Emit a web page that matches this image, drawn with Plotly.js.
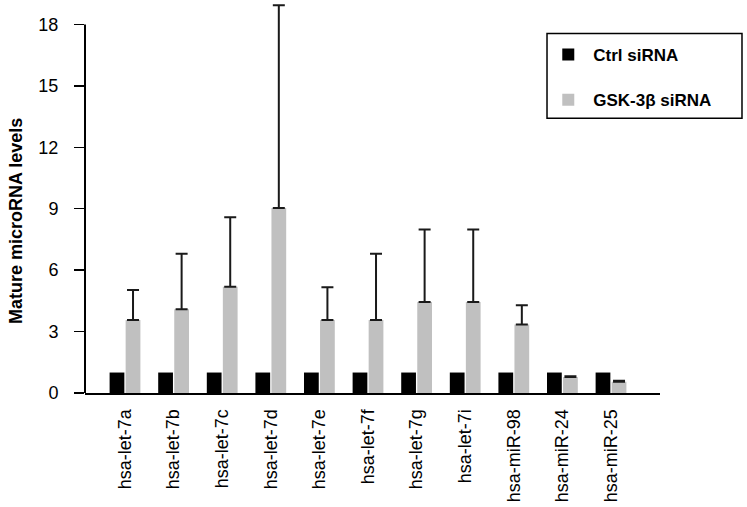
<!DOCTYPE html>
<html>
<head>
<meta charset="utf-8">
<script src="https://cdn.plot.ly/plotly-3.0.1.min.js"></script>
<style>html,body{margin:0;padding:0;background:#fff;}#chart{width:747px;height:507px;}</style>
</head>
<body>
<div id="chart"></div>
<script>
var categories = ["hsa-let-7a","hsa-let-7b","hsa-let-7c","hsa-let-7d","hsa-let-7e","hsa-let-7f","hsa-let-7g","hsa-let-7i","hsa-miR-98","hsa-miR-24","hsa-miR-25"];
var ctrlValues = [1,1,1,1,1,1,1,1,1,1,1];
var gskValues = [3.57,4.09,5.19,9.04,3.57,3.57,4.45,4.45,3.34,0.78,0.55];
var gskErrors = [1.46,2.71,3.39,9.9,1.6,3.23,3.54,3.54,0.95,0.04,0.05];
var yTicks = [0,3,6,9,12,15,18];
var yAxisMax = 18;

var font = "Liberation Sans, Arial, sans-serif";
var zeros = gskErrors.map(function(){return 0;});

var traces = [
  {type:"bar", name:"Ctrl siRNA", legendgroup:"a", x:categories, y:ctrlValues,
   marker:{color:"#000000", line:{width:0}}},
  {type:"bar", name:"GSK-3\u03b2 siRNA", legendgroup:"b", x:categories, y:gskValues,
   marker:{color:"#c0c0c0", line:{width:0}},
   error_y:{type:"data", symmetric:false, array:gskErrors, arrayminus:zeros,
            color:"#1a1a1a", thickness:2, width:6}}
];

var layout = {
  width:747, height:507,
  margin:{l:85, r:87, t:3.5, b:114},
  paper_bgcolor:"#fff", plot_bgcolor:"#fff",
  barmode:"group", bargap:0.34, bargroupgap:0.08,
  font:{family:font, color:"#000"},
  xaxis:{type:"category", range:[-0.823, 11.008], showline:true, linecolor:"#000", linewidth:2,
         ticks:"", tickangle:-90, ticklabelstandoff:7,
         tickfont:{size:18, family:font, color:"#000"},
         showgrid:false, zeroline:false, fixedrange:true},
  yaxis:{range:[0,19], tickvals:yTicks, showline:false,
         ticks:"outside", ticklen:10, tickwidth:1.5, tickcolor:"#000",
         ticklabelstandoff:12,
         tickfont:{size:18, family:font, color:"#000"},
         showgrid:false, zeroline:false},
  shapes:[
    {type:"line", xref:"paper", yref:"y", x0:0, x1:0, y0:0, y1:yAxisMax,
     line:{color:"#000", width:2}},
    {type:"rect", xref:"paper", yref:"paper", x0:0.8035, x1:1.1426, y0:0.706, y1:0.9243,
     line:{color:"#000", width:1.5}, fillcolor:"rgba(0,0,0,0)"}
  ],
  annotations:[
    {text:"Mature microRNA levels", xref:"paper", yref:"y", x:-0.12, y:8.4,
     textangle:-90, showarrow:false, xanchor:"center", yanchor:"middle",
     font:{size:18, family:font, weight:"bold", color:"#000"}}
  ],
  showlegend:true,
  legend:{x:0.797, y:0.915, xanchor:"left", yanchor:"top",
          bgcolor:"rgba(0,0,0,0)", borderwidth:0,
          font:{size:17, family:font, weight:"bold", color:"#000"},
          tracegroupgap:20, itemwidth:40, traceorder:"grouped"}
};

Plotly.newPlot("chart", traces, layout, {displayModeBar:false, staticPlot:true});
</script>
</body>
</html>
